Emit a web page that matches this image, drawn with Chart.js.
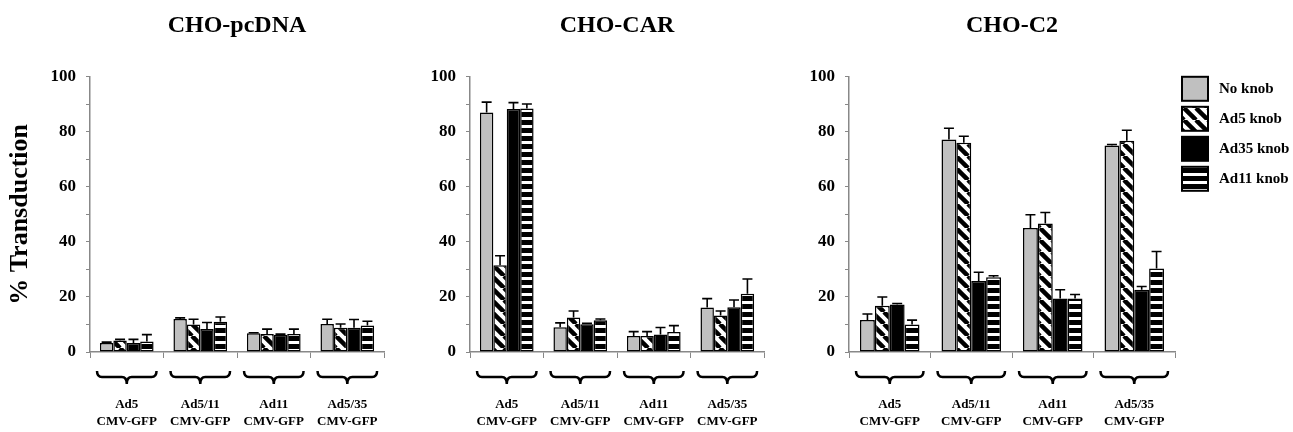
<!DOCTYPE html>
<html>
<head>
<meta charset="utf-8">
<script src="https://cdn.jsdelivr.net/npm/chart.js@4.4.0/dist/chart.umd.min.js"></script>
<style>
  body { margin: 0; background: #fff; }
  #wrap { position: relative; width: 1293px; height: 432px; overflow: hidden; }
  canvas { position: absolute; top: 0; }
</style>
</head>
<body>
<div id="wrap">
  <canvas id="pcdna" width="420" height="432" style="left:0px"></canvas>
  <canvas id="car" width="380" height="432" style="left:420px"></canvas>
  <canvas id="c2" width="493" height="432" style="left:800px"></canvas>
</div>
<script>
const groups = [['Ad5', 'CMV-GFP'], ['Ad5/11', 'CMV-GFP'], ['Ad11', 'CMV-GFP'], ['Ad5/35', 'CMV-GFP']];
const knobs = ['No knob', 'Ad5 knob', 'Ad35 knob', 'Ad11 knob'];

// CHO-pcDNA
const pcdnaNoKnob = [3.3, 12.0, 6.8, 10.2];
const pcdnaAd5 = [4.2, 10.0, 6.5, 8.8];
const pcdnaAd35 = [3.3, 8.4, 6.3, 8.8];
const pcdnaAd11 = [3.8, 11.0, 6.5, 9.6];
const pcdnaNoKnobErr = [0.3, 0.4, 0.2, 1.7];
const pcdnaAd5Err = [0.4, 1.9, 1.8, 1.4];
const pcdnaAd35Err = [1.3, 2.3, 0.2, 3.0];
const pcdnaAd11Err = [2.5, 1.7, 1.8, 1.6];

// CHO-CAR
const carNoKnob = [87.0, 9.0, 5.8, 16.2];
const carAd5 = [31.5, 12.5, 5.8, 13.3];
const carAd35 = [88.3, 10.1, 6.4, 16.3];
const carAd11 = [88.5, 11.5, 7.3, 21.2];
const carNoKnobErr = [3.8, 1.6, 1.6, 3.2];
const carAd5Err = [3.5, 2.4, 1.6, 1.6];
const carAd35Err = [2.3, 0.3, 2.5, 2.6];
const carAd11Err = [1.6, 0.5, 2.3, 5.3];

// CHO-C2
const c2NoKnob = [11.6, 77.2, 45.1, 75.0];
const c2Ad5 = [16.8, 76.0, 46.7, 76.8];
const c2Ad35 = [17.3, 25.8, 19.4, 22.6];
const c2Ad11 = [10.0, 27.2, 19.4, 30.3];
const c2NoKnobErr = [2.2, 4.1, 4.8, 0.4];
const c2Ad5Err = [3.2, 2.4, 4.0, 3.8];
const c2Ad35Err = [0.3, 3.2, 3.2, 1.2];
const c2Ad11Err = [1.6, 0.5, 1.5, 6.2];

Chart.defaults.font.family = "'Liberation Serif', 'Times New Roman', serif";
Chart.defaults.font.weight = 'bold';
Chart.defaults.color = '#000';

// fill patterns
function diagPattern() {
  const c = document.createElement('canvas');
  c.width = 12; c.height = 12;
  const g = c.getContext('2d');
  g.fillStyle = '#fff';
  g.fillRect(0, 0, 12, 12);
  g.strokeStyle = '#000';
  g.lineWidth = 4.5;
  for (const o of [-12, 0, 12]) {
    g.beginPath();
    g.moveTo(o, 0);
    g.lineTo(o + 12, 12);
    g.stroke();
  }
  return g.createPattern(c, 'repeat');
}
function stripePattern() {
  const c = document.createElement('canvas');
  c.width = 8; c.height = 8;
  const g = c.getContext('2d');
  g.fillStyle = '#000';
  g.fillRect(0, 0, 8, 8);
  g.fillStyle = '#fff';
  g.fillRect(0, 5, 8, 3);
  return g.createPattern(c, 'repeat');
}
const fills = ['#c0c0c0', diagPattern(), '#000', stripePattern()];

// upward error bars with caps
const errorBars = {
  id: 'errorBars',
  afterDatasetsDraw(chart) {
    const ctx = chart.ctx;
    const y = chart.scales.y;
    ctx.save();
    ctx.strokeStyle = '#000';
    ctx.lineWidth = 1.6;
    chart.data.datasets.forEach((ds, i) => {
      chart.getDatasetMeta(i).data.forEach((bar, j) => {
        const top = y.getPixelForValue(ds.data[j] + ds.errors[j]);
        ctx.beginPath();
        ctx.moveTo(bar.x, bar.y);
        ctx.lineTo(bar.x, top);
        ctx.moveTo(bar.x - 5, top);
        ctx.lineTo(bar.x + 5, top);
        ctx.stroke();
      });
    });
    ctx.restore();
  }
};

// curly braces under each group
const braces = {
  id: 'braces',
  afterDraw(chart) {
    const ctx = chart.ctx;
    const x = chart.scales.x;
    const n = chart.data.labels.length;
    const half = x.width / n / 2 - 7;
    const b = chart.chartArea.bottom;
    const yTop = b + 19, yMid = b + 25, yTip = b + 32, r = 5;
    ctx.save();
    ctx.strokeStyle = '#000';
    ctx.lineWidth = 2.5;
    for (let j = 0; j < n; j++) {
      const xc = x.getPixelForValue(j);
      const x0 = xc - half, x1 = xc + half;
      ctx.beginPath();
      ctx.moveTo(x0, yTop);
      ctx.quadraticCurveTo(x0, yMid, x0 + r, yMid);
      ctx.lineTo(xc - r, yMid);
      ctx.quadraticCurveTo(xc, yMid, xc, yTip);
      ctx.quadraticCurveTo(xc, yMid, xc + r, yMid);
      ctx.lineTo(x1 - r, yMid);
      ctx.quadraticCurveTo(x1, yMid, x1, yTop);
      ctx.stroke();
    }
    ctx.restore();
  }
};

// legend boxes to the right of the last panel
const sideLegend = {
  id: 'sideLegend',
  afterDraw(chart) {
    const ctx = chart.ctx;
    const x0 = chart.chartArea.right + 7;
    const y0 = chart.chartArea.top;
    ctx.save();
    ctx.font = "bold 15px 'Liberation Serif', 'Times New Roman', serif";
    ctx.textBaseline = 'middle';
    chart.data.datasets.forEach((ds, i) => {
      const y = y0 + i * 30;
      ctx.fillStyle = ds.backgroundColor;
      ctx.fillRect(x0, y, 26, 24);
      ctx.strokeStyle = '#000';
      ctx.lineWidth = 2;
      ctx.strokeRect(x0, y, 26, 24);
      ctx.fillStyle = '#000';
      ctx.fillText(ds.label, x0 + 37, y + 12);
    });
    ctx.restore();
  }
};

function makePanel(id, title, series, errs, yWidth, padRight, showTitle, extra) {
  const datasets = series.map((s, i) => ({
    label: knobs[i],
    data: s,
    errors: errs[i],
    backgroundColor: fills[i],
    borderColor: '#000',
    borderWidth: 1.5,
    borderSkipped: false,
    barPercentage: 1.0,
    categoryPercentage: 0.73
  }));

  const config = {
    type: 'bar',
    data: { labels: groups, datasets: datasets },
    options: {
      responsive: false,
      animation: false,
      layout: { padding: { left: 0, right: padRight, top: 0, bottom: 0 } },
      plugins: {
        legend: { display: false },
        tooltip: { enabled: false },
        title: {
          display: true,
          text: title,
          fullSize: false,
          font: { size: 24, weight: 'bold' },
          color: '#000',
          padding: { top: 11, bottom: 37 }
        }
      },
      scales: {
        x: {
          grid: { offset: true, drawOnChartArea: false, tickLength: 6, color: '#888' },
          border: { color: '#888', width: 1.5 },
          ticks: { font: { size: 13, weight: 'bold', lineHeight: 1.3 }, color: '#000', padding: 38, maxRotation: 0, autoSkip: false },
          afterFit: s => { s.height = 80; }
        },
        y: {
          min: 0,
          max: 100,
          ticks: {
            stepSize: 10,
            callback: v => (v % 20 === 0 ? v : ''),
            font: { size: 17, weight: 'bold' },
            color: '#000',
            padding: 10
          },
          grid: { drawOnChartArea: false, tickLength: 4, color: '#888' },
          border: { color: '#888', width: 1.5 },
          title: {
            display: showTitle,
            text: '% Transduction',
            font: { size: 26, weight: 'bold' },
            color: '#000',
            padding: { top: 5, bottom: 0 }
          },
          afterFit: s => { s.width = yWidth; }
        }
      }
    },
    plugins: [errorBars, braces].concat(extra)
  };
  new Chart(document.getElementById(id), config);
}

makePanel('pcdna', 'CHO-pcDNA',
  [pcdnaNoKnob, pcdnaAd5, pcdnaAd35, pcdnaAd11],
  [pcdnaNoKnobErr, pcdnaAd5Err, pcdnaAd35Err, pcdnaAd11Err],
  90, 5, true, []);

makePanel('car', 'CHO-CAR',
  [carNoKnob, carAd5, carAd35, carAd11],
  [carNoKnobErr, carAd5Err, carAd35Err, carAd11Err],
  50, 4, false, []);

makePanel('c2', 'CHO-C2',
  [c2NoKnob, c2Ad5, c2Ad35, c2Ad11],
  [c2NoKnobErr, c2Ad5Err, c2Ad35Err, c2Ad11Err],
  49, 118, false, [sideLegend]);
</script>
</body>
</html>
